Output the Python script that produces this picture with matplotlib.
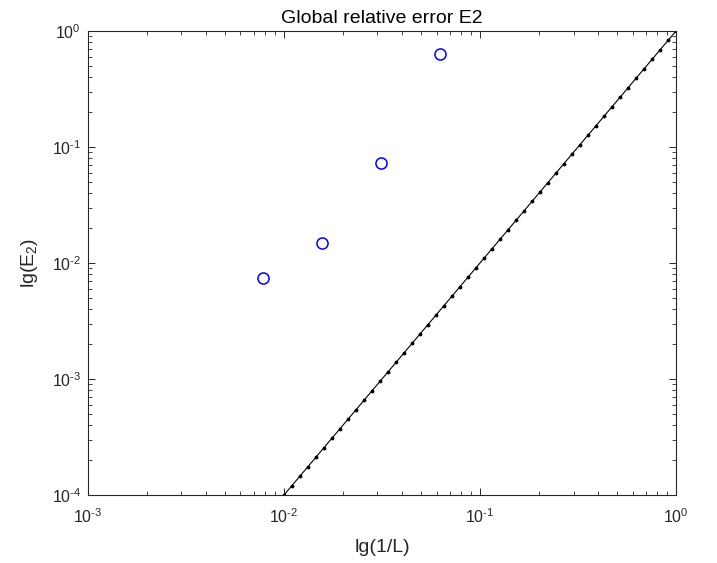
import numpy as np
import matplotlib
matplotlib.use('Agg')
import matplotlib.pyplot as plt
from matplotlib.ticker import FuncFormatter

plt.rcParams['font.family'] = ['Liberation Sans', 'DejaVu Sans']
plt.rcParams['mathtext.fontset'] = 'custom'
plt.rcParams['mathtext.rm'] = 'Liberation Sans'
plt.rcParams['mathtext.it'] = 'Liberation Sans'
plt.rcParams['axes.unicode_minus'] = False

# data
inv_L = [1 / 128, 1 / 64, 1 / 32, 1 / 16]
err_e2 = [0.00743, 0.0148, 0.0723, 0.634]

# reference slope-2 guide line
ref_start = 1e-2
ref_end = 1e0
ref_n = 50
ref_x = np.logspace(np.log10(ref_start), np.log10(ref_end), ref_n)
ref_y = ref_x ** 2


def pow_label(v, pos):
    e = int(round(np.log10(v)))
    if e < 0:
        return r'$\mathdefault{10^{\text{-}%d}}$' % (-e)
    return r'$\mathdefault{10^{%d}}$' % e


fig = plt.figure(figsize=(7.17, 5.63), dpi=100)
ax = fig.add_axes([0.1227, 0.1208, 0.8201, 0.8241])

ax.loglog(inv_L, err_e2, 'o', color='#0000ff', markerfacecolor='none',
          markersize=8, markeredgewidth=1.1)
ax.loglog(ref_x, ref_y, '-', color='k', linewidth=0.8,
          marker='.', markersize=3.5)

ax.set_xlim(1e-3, 1e0)
ax.set_ylim(1e-4, 1e0)
ax.xaxis.set_major_formatter(FuncFormatter(pow_label))
ax.yaxis.set_major_formatter(FuncFormatter(pow_label))

axis_col = '#262626'
for s in ax.spines.values():
    s.set_color(axis_col)
    s.set_linewidth(0.8)
ax.tick_params(which='both', direction='in', top=True, right=True,
               colors=axis_col, labelsize=11.5, labelcolor=axis_col)
ax.tick_params(which='major', length=5, width=0.7)
ax.tick_params(which='minor', length=3, width=0.6)
ax.tick_params(axis='x', which='major', pad=9)
ax.tick_params(axis='y', which='major', pad=5)

ax.set_xlabel('lg(1/L)', fontsize=14, color=axis_col, labelpad=9)
ax.set_ylabel('lg(E$_2$)', fontsize=14, color=axis_col, labelpad=8)
ax.set_title('Global relative error E2', fontsize=14, color='k', pad=6)

fig.savefig('out.png', dpi=100)
